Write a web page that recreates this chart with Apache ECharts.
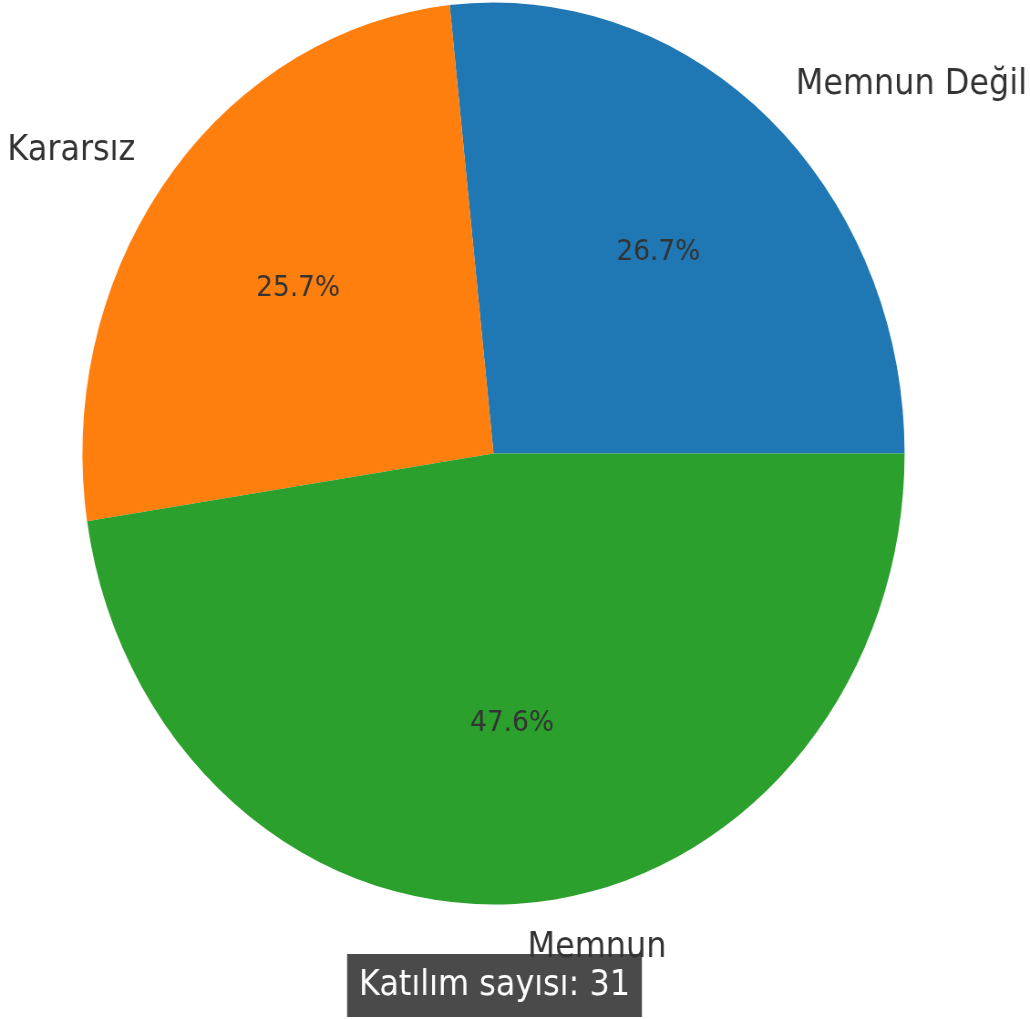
<!DOCTYPE html>
<html>
<head>
<meta charset="utf-8">
<script src="https://cdn.jsdelivr.net/npm/echarts@6/dist/echarts.min.js"></script>
<style>
html, body { margin: 0; padding: 0; background: #fff; overflow: hidden; }
#wrap { width: 1030px; height: 1019px; overflow: hidden; }
/* the reference figure is squeezed horizontally, so the pie looks like an ellipse */
#main { width: 1130px; height: 1019px; transform: scaleX(0.9115); transform-origin: 0 0; }
</style>
</head>
<body>
<div id="wrap"><div id="main"></div></div>
<script>
// veriler
var categories = ['Memnun Değil', 'Kararsız', 'Memnun'];
var values = [26.7, 25.7, 47.6];
var colors = ['#1f77b4', '#ff7f0e', '#2ca02c'];
var footText = 'Katılım sayısı: 31';

var pieData = [];
for (var i = 0; i < categories.length; i++) {
    pieData.push({ name: categories[i], value: values[i], itemStyle: { color: colors[i] } });
}

var center = [541.4, 453.5];
var R = 451;
var font = 'DejaVu Sans';

var chart = echarts.init(document.getElementById('main'));

var option = {
    animation: false,
    backgroundColor: '#fff',
    title: {
        text: footText,
        left: 380.8,
        top: 954,
        padding: [11, 13],
        backgroundColor: '#4a4a4a',
        z: 0,
        textStyle: {
            color: '#fff',
            fontSize: 35,
            fontWeight: 'normal',
            fontFamily: font,
            lineHeight: 41
        }
    },
    series: [
        {
            // dilimler + dış etiketler
            type: 'pie',
            center: center,
            radius: [0, R],
            startAngle: 0,
            clockwise: false,
            avoidLabelOverlap: false,
            z: 3,
            itemStyle: { borderWidth: 0 },
            emphasis: { disabled: true },
            label: {
                show: true,
                position: 'outside',
                formatter: '{b}',
                color: '#333',
                fontSize: 35,
                fontFamily: font,
                distanceToLabelLine: 0
            },
            labelLine: { show: false, length: R * 0.1, length2: 0 },
            data: pieData
        },
        {
            // yüzde etiketleri (0.6 r)
            type: 'pie',
            center: center,
            radius: [R * 0.2 - 6, R],
            startAngle: 0,
            clockwise: false,
            silent: true,
            avoidLabelOverlap: false,
            percentPrecision: 1,
            z: 4,
            itemStyle: { color: 'rgba(0,0,0,0)', borderWidth: 0 },
            emphasis: { disabled: true },
            label: {
                show: true,
                position: 'inside',
                formatter: '{d}%',
                color: '#333',
                fontSize: 29,
                fontFamily: font
            },
            labelLine: { show: false },
            data: categories.map(function (c, i) { return { name: c, value: values[i] }; })
        }
    ]
};

chart.setOption(option);
</script>
</body>
</html>
